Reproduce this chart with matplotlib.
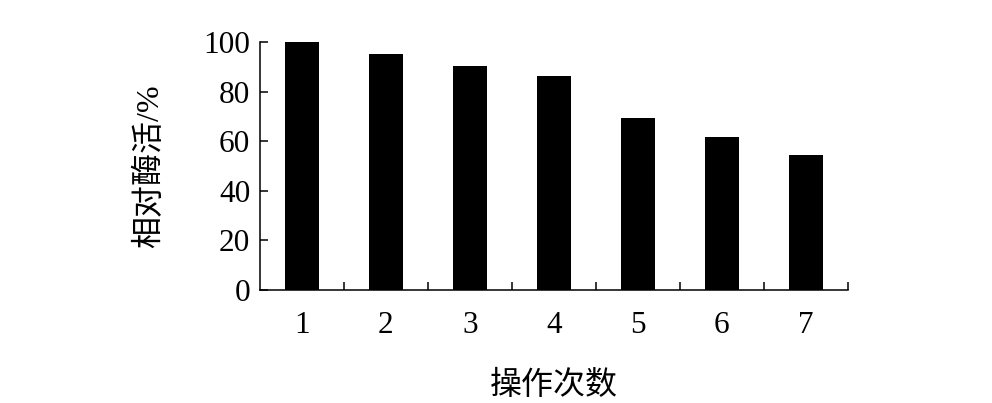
import matplotlib
matplotlib.use("Agg")
import matplotlib.pyplot as plt

# 操作次数 vs 相对酶活
runs = [1, 2, 3, 4, 5, 6, 7]
activity = [100, 95, 90.3, 86.4, 69.5, 61.6, 54.4]
yticks = [0, 20, 40, 60, 80, 100]

fonts = ['Liberation Serif', 'Noto Sans CJK SC']
plt.rcParams['font.family'] = fonts

fig = plt.figure(figsize=(9.92, 4.03), dpi=100)
ax = fig.add_axes([0.262, 0.2804, 0.5927, 0.6154])

ax.bar(runs, activity, width=0.4, color='black')

ax.set_xlim(0.5, 7.5)
ax.set_ylim(0, 100)
ax.set_yticks(yticks)
ax.set_xticks(runs)
ax.set_xticks([r + 0.5 for r in runs], minor=True)

for s in ['top', 'right']:
    ax.spines[s].set_visible(False)
for s in ['left', 'bottom']:
    ax.spines[s].set_linewidth(1.1)

ax.tick_params(axis='y', direction='in', length=6, width=1.1, labelsize=22.5, pad=7)
ax.tick_params(axis='x', which='major', length=0, labelsize=22.5, pad=15)
ax.tick_params(axis='x', which='minor', direction='in', length=6, width=1.1)

ax.set_ylabel('相对酶活/%', fontsize=23, va='center')
ax.set_xlabel('操作次数', fontsize=23, va='center')
ax.yaxis.set_label_coords(-0.187, 0.5)
ax.xaxis.set_label_coords(0.5, -0.387)

fig.savefig('out.png', dpi=100)
